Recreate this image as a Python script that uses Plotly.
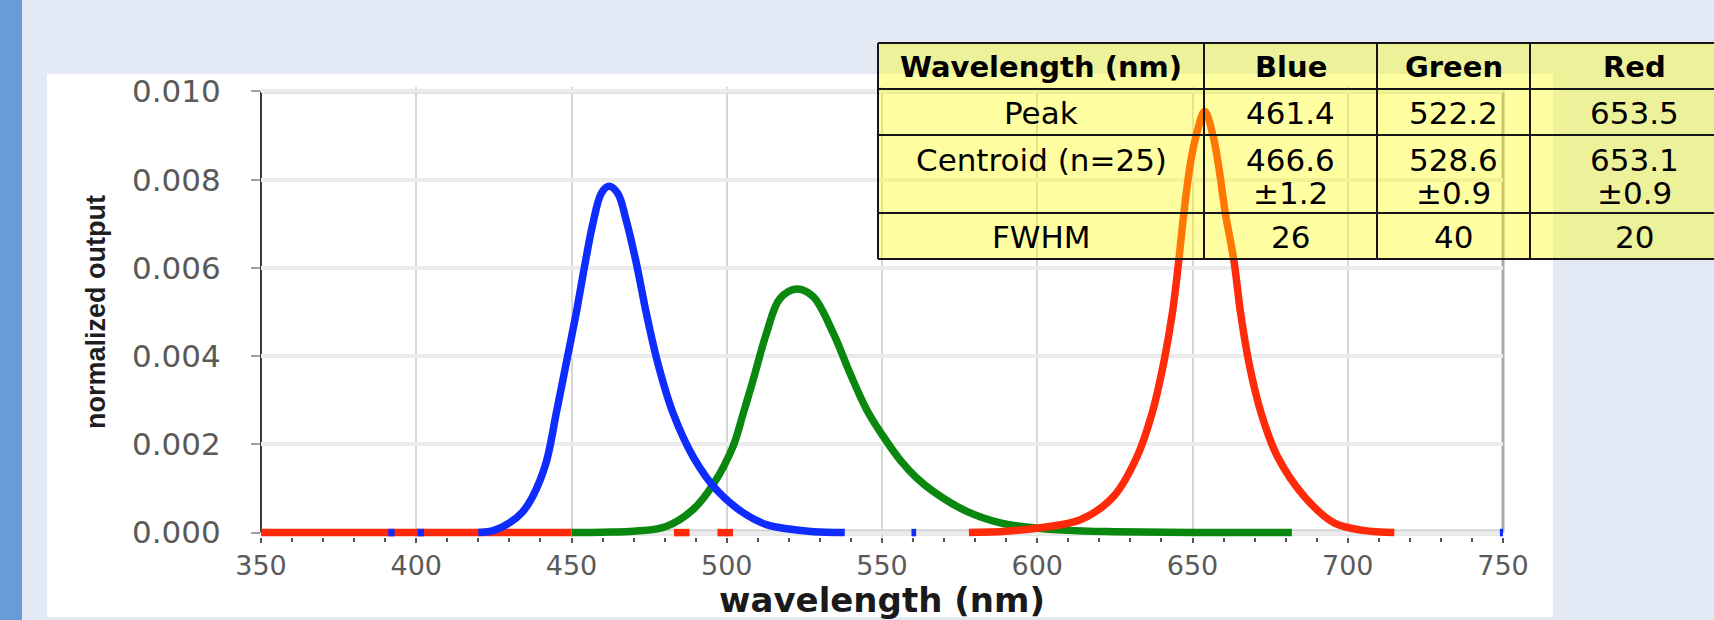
import plotly.graph_objects as go

# ---------------- data ----------------
blue_nm = [420, 425, 430, 434, 437.5, 441.8, 445.1, 448.3, 451.5, 454.2, 456.9, 459.6, 462,
           464.9, 467.6, 470.9, 474.1, 477.8, 482.7, 489.1, 496.7, 505.3, 512.8, 520, 528, 538,
           None, 391, 393, None, 400.5, 402.5, None, 559.5, 561, None, 749, 750.5]
blue_out = [0.0, 0.00005, 0.00022, 0.00045, 0.00082, 0.00158, 0.00271, 0.00384, 0.00497, 0.00603,
            0.00701, 0.00769, 0.00785, 0.00769, 0.00708, 0.00610, 0.00497, 0.00384, 0.00271,
            0.00173, 0.00097, 0.00045, 0.00018, 0.00008, 0.00002, 0.0,
            None, 0.0, 0.0, None, 0.0, 0.0, None, 0.0, 0.0, None, 0.0, 0.0]

green_nm = [450, 460, 470, 480.5, 489.1, 495.6, 502, 505.3, 508.5, 512.8, 517.1, 522.6, 527.8,
            534.3, 539.7, 545.1, 550.4, 555.8, 561, 566.6, 577.3, 588.1, 598.8, 609.5, 625, 650, 682]
green_out = [0.0, 0.00001, 0.00003, 0.00014, 0.00052, 0.00109, 0.00195, 0.00270, 0.00346, 0.00452,
             0.00530, 0.00552, 0.00535, 0.00452, 0.00361, 0.00278, 0.00218, 0.00165, 0.00125,
             0.00093, 0.00048, 0.00022, 0.00011, 0.00005, 0.00002, 0.0, 0.0]

red_nm = [350, 450, None, 483, 488, None, 497, 502, None,
          578, 590, 601, 613.9, 624.6, 632.2, 637, 640.7, 643.5, 645.6, 647.2, 649.3, 651.2, 653.9,
          656.6, 658.3, 660.6, 663.3, 665.5, 668.2, 672.1, 677.3, 686, 695.6, 705, 715]
red_out = [0.0, 0.0, None, 0.0, 0.0, None, 0.0, 0.0, None,
           0.0, 0.00003, 0.00011, 0.00029, 0.00082, 0.00173, 0.00271, 0.00384, 0.00497, 0.00618,
           0.00723, 0.00836, 0.00900, 0.00955,
           0.00900, 0.00836, 0.00723, 0.00618, 0.00497, 0.00384, 0.00271, 0.00173, 0.00082,
           0.00022, 0.00005, 0.0]

table_header = ["Wavelength (nm)", "Blue", "Green", "Red"]
row_labels = ["Peak", "Centroid (n=25)", "FWHM"]
peak_vals = ["461.4", "522.2", "653.5"]
centroid_vals = ["466.6", "528.6", "653.1"]
centroid_err = ["±1.2", "±0.9", "±0.9"]
fwhm_vals = ["26", "40", "20"]

x_title = "wavelength (nm)"
y_title = "normalized output"

# ---------------- layout geometry (pixels) ----------------
W, H = 1714, 620
ML, MR, MT, MB = 261, 211, 87, 83
PW = W - ML - MR
PH = H - MT - MB


def px(x):
    return (x - ML) / PW


def py(y):
    return (H - MB - y) / PH


fig = go.Figure()
for xs, ys, col in [(green_nm, green_out, "#0a870f"),
                    (red_nm, red_out, "#ff2a0a"),
                    (blue_nm, blue_out, "#0f2cff")]:
    fig.add_trace(go.Scatter(x=xs, y=ys, mode="lines", line=dict(color=col, width=7.5, shape="spline"),
                             connectgaps=False, showlegend=False, hoverinfo="skip"))

shapes = []
# slide background pieces
shapes.append(dict(type="rect", xref="paper", yref="paper", x0=px(-5), x1=px(22), y0=py(-5), y1=py(625),
                   fillcolor="#679cd9", line=dict(width=0), layer="below"))
shapes.append(dict(type="rect", xref="paper", yref="paper", x0=px(47), x1=px(1553), y0=py(74), y1=py(617),
                   fillcolor="#ffffff", line=dict(width=0), layer="below"))
# plot frame
shapes.append(dict(type="line", xref="paper", yref="y", x0=0, x1=1, y0=0.010, y1=0.010,
                   line=dict(color="#c2c2c2", width=4), layer="below"))
shapes.append(dict(type="line", xref="paper", yref="y", x0=1, x1=1, y0=0, y1=0.010,
                   line=dict(color="#a9a9a9", width=3), layer="below"))
shapes.append(dict(type="line", xref="paper", yref="y", x0=0, x1=1, y0=0, y1=0,
                   line=dict(color="#cfcfcf", width=6), layer="below"))
shapes.append(dict(type="line", xref="paper", yref="y", x0=0, x1=0, y0=0, y1=0.010,
                   line=dict(color="#3c3c3c", width=2), layer="below"))

# table
col_edges = [878, 1204, 1377, 1530, 1739]
row_edges = [43, 89, 135, 213, 259]
shapes.append(dict(type="rect", xref="paper", yref="paper", x0=px(col_edges[0]), x1=px(col_edges[-1]),
                   y0=py(row_edges[-1]), y1=py(row_edges[0]), fillcolor="rgba(255,255,0,0.37)",
                   line=dict(width=0), layer="above"))
for r in row_edges:
    shapes.append(dict(type="line", xref="paper", yref="paper", x0=px(col_edges[0]), x1=px(col_edges[-1]),
                       y0=py(r), y1=py(r), line=dict(color="#161616", width=2), layer="above"))
for c in col_edges:
    shapes.append(dict(type="line", xref="paper", yref="paper", x0=px(c), x1=px(c),
                       y0=py(row_edges[0]), y1=py(row_edges[-1]), line=dict(color="#161616", width=2),
                       layer="above"))

annotations = []
col_centers = [(col_edges[i] + col_edges[i + 1]) / 2 for i in range(4)]
tfont = dict(family="DejaVu Sans", size=31, color="#000000")
tfont_b = dict(family="DejaVu Sans", size=29, color="#000000", weight="bold")


def cell(text, xc, yc, font):
    annotations.append(dict(text=text, xref="paper", yref="paper", x=px(xc), y=py(yc), showarrow=False,
                            xanchor="center", yanchor="middle", font=font))


for i, t in enumerate(table_header):
    cell(t, col_centers[i], 67, tfont_b)
cell(row_labels[0], col_centers[0], 113, tfont)
cell(row_labels[1], col_centers[0], 160, tfont)
cell(row_labels[2], col_centers[0], 237, tfont)
for j in range(3):
    cell(peak_vals[j], col_centers[j + 1], 113, tfont)
    cell(centroid_vals[j], col_centers[j + 1], 160, tfont)
    cell(centroid_err[j], col_centers[j + 1], 193, tfont)
    cell(fwhm_vals[j], col_centers[j + 1], 237, tfont)

fig.update_layout(
    width=W, height=H,
    margin=dict(l=ML, r=MR, t=MT, b=MB, pad=0),
    paper_bgcolor="#e2e9f4",
    plot_bgcolor="#ffffff",
    shapes=shapes,
    annotations=annotations,
    showlegend=False,
)

fig.update_xaxes(
    range=[350, 750], tick0=350, dtick=50, showgrid=True, gridcolor="#d6d6d6", gridwidth=2,
    showline=False, zeroline=False,
    ticks="outside", ticklen=5, tickwidth=2, tickcolor="#555555",
    minor=dict(dtick=10, ticks="outside", ticklen=4, tickwidth=1.5, tickcolor="#555555", showgrid=False),
    tickfont=dict(family="DejaVu Sans", size=27, color="#5a5a5a"),
    title=dict(text=x_title, font=dict(family="DejaVu Sans", size=34, color="#1a1a1a", weight="bold"),
               standoff=4),
)
fig.update_yaxes(
    range=[-0.0001, 0.0101], tick0=0, dtick=0.002, tickformat=".3f", showgrid=True,
    gridcolor="#ebebeb", gridwidth=4, showline=False, zeroline=False,
    ticks="outside", ticklen=9, tickwidth=2, tickcolor="#a0a0a0", ticklabelstandoff=24,
    tickfont=dict(family="DejaVu Sans", size=31, color="#5a5a5a"),
    title=dict(text=y_title, font=dict(family="Liberation Sans", size=27, color="#1e1e1e", weight="bold"),
               standoff=18),
)

fig.write_html("out.html", config={"displayModeBar": False},
               post_script="document.body.style.margin='0px';document.body.style.overflow='hidden';")
